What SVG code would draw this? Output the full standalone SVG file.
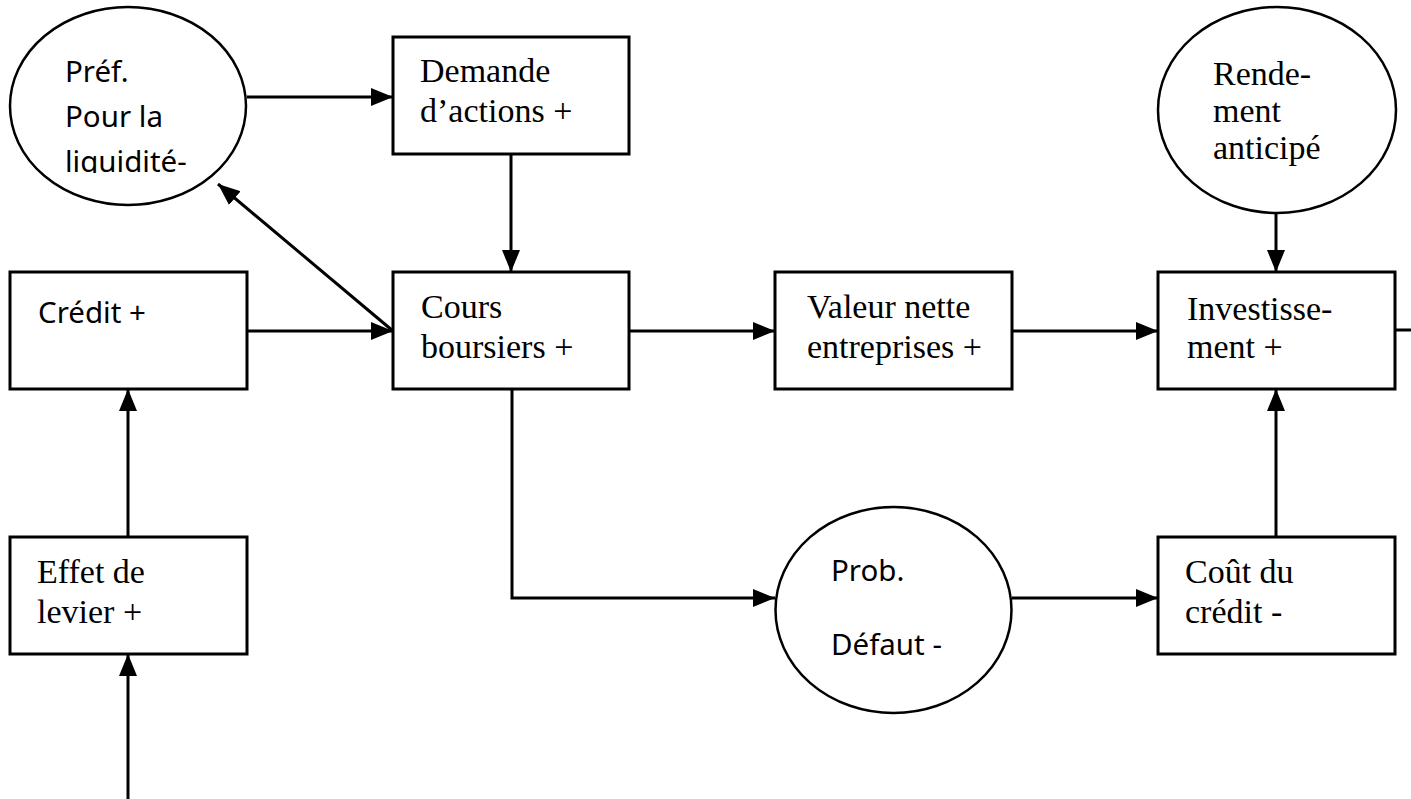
<svg xmlns="http://www.w3.org/2000/svg" width="1411" height="799" viewBox="0 0 1411 799">
<defs>
<marker id="ah" markerUnits="userSpaceOnUse" markerWidth="24" markerHeight="20" refX="22" refY="9" orient="auto">
<path d="M0,0 L22,9 L0,18 z" fill="#000"/>
</marker>
<clipPath id="clipPref"><rect x="0" y="0" width="260" height="173"/></clipPath>
</defs>
<style>
.box{fill:#fff;stroke:#000;stroke-width:3}
.ell{fill:#fff;stroke:#000;stroke-width:2.5}
.serif{font-family:"Liberation Serif","Times New Roman",serif;font-size:34px;fill:#000}
.sans{font-family:"Noto Sans","Open Sans",sans-serif;font-size:29.5px;fill:#000}
.conn{fill:none;stroke:#000;stroke-width:3}
.arr{fill:none;stroke:#000;stroke-width:3;marker-end:url(#ah)}
</style>
<rect width="1411" height="799" fill="#fff"/>
<g id="connectors">
<line class="arr" x1="247" y1="97" x2="393" y2="97"/>
<line class="arr" x1="511" y1="154" x2="511" y2="272"/>
<line class="arr" x1="247" y1="331" x2="393" y2="331"/>
<line class="arr" x1="393" y1="331" x2="218" y2="184"/>
<line class="arr" x1="629" y1="331" x2="775" y2="331"/>
<line class="arr" x1="1012" y1="331" x2="1158" y2="331"/>
<line class="arr" x1="1276" y1="213" x2="1276" y2="272"/>
<line class="conn" x1="1395" y1="330" x2="1411" y2="330"/>
<polyline class="arr" points="512,389 512,598 775,598"/>
<line class="arr" x1="1012" y1="598" x2="1158" y2="598"/>
<line class="arr" x1="1276" y1="537" x2="1276" y2="389"/>
<line class="arr" x1="128" y1="537" x2="128" y2="389"/>
<line class="arr" x1="128" y1="799" x2="128" y2="654"/>
</g>
<g id="pref">
<ellipse class="ell" cx="128" cy="106" rx="118" ry="99"/>
<g clip-path="url(#clipPref)">
<text class="sans" x="65" y="82">Préf.</text>
<text class="sans" x="65" y="127">Pour la</text>
<text class="sans" x="65" y="172">liquidité-</text>
</g>
</g>
<g id="demande">
<rect class="box" x="393" y="37" width="236" height="117"/>
<text class="serif" x="420" y="82">Demande</text>
<text class="serif" x="420" y="122">d’actions +</text>
</g>
<g id="rendement">
<ellipse class="ell" cx="1277" cy="110" rx="119" ry="103"/>
<text class="serif" x="1213" y="85">Rende-</text>
<text class="serif" x="1213" y="122">ment</text>
<text class="serif" x="1213" y="159">anticipé</text>
</g>
<g id="credit">
<rect class="box" x="10" y="272" width="237" height="117"/>
<text class="sans" x="38" y="323">Crédit +</text>
</g>
<g id="cours">
<rect class="box" x="393" y="272" width="236" height="117"/>
<text class="serif" x="421" y="318">Cours</text>
<text class="serif" x="421" y="358">boursiers +</text>
</g>
<g id="valeur">
<rect class="box" x="775" y="272" width="237" height="117"/>
<text class="serif" x="807" y="318">Valeur nette</text>
<text class="serif" x="807" y="358">entreprises +</text>
</g>
<g id="investissement">
<rect class="box" x="1158" y="272" width="237" height="117"/>
<text class="serif" x="1187" y="320">Investisse-</text>
<text class="serif" x="1187" y="358">ment +</text>
</g>
<g id="effet">
<rect class="box" x="10" y="537" width="237" height="117"/>
<text class="serif" x="37" y="583">Effet de</text>
<text class="serif" x="37" y="623">levier +</text>
</g>
<g id="prob">
<ellipse class="ell" cx="893.5" cy="610" rx="118" ry="103"/>
<text class="sans" x="831" y="581">Prob.</text>
<text class="sans" x="831" y="655">Défaut -</text>
</g>
<g id="cout">
<rect class="box" x="1158" y="537" width="237" height="117"/>
<text class="serif" x="1185" y="583">Coût du</text>
<text class="serif" x="1185" y="623">crédit -</text>
</g>
</svg>
